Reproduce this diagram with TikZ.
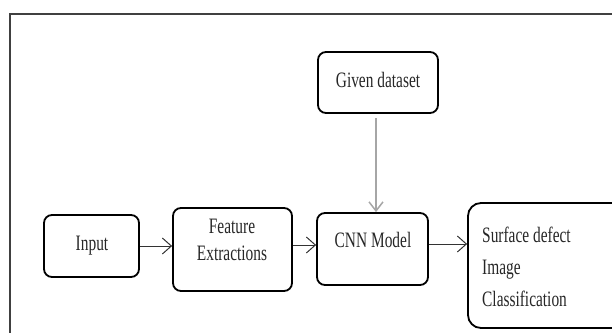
\documentclass[tikz,border=0pt]{standalone}
\usepackage{fontspec}
\setmainfont{Liberation Serif}[FakeStretch=0.7]
\usetikzlibrary{arrows.meta}
\begin{document}
\begin{tikzpicture}[x=1pt,y=-1pt,
  stepbox/.style={draw=black, line width=1.8pt, rounded corners=8pt, inner sep=0pt},
  lbl/.style={font=\fontsize{22}{27}\selectfont, inner sep=0pt, text=black!85},
  flow/.style={draw=black!80, line width=1pt, -{Straight Barb[length=9pt,width=16pt,line width=1pt]}},
  feed/.style={draw=black!35, line width=2pt, -{Straight Barb[length=9pt,width=14pt,line width=1.5pt]}}]
\useasboundingbox (0,0) rectangle (612,332);
\clip (0,0) rectangle (612,332);
% outer frame, open towards the right and bottom
\draw[black!75, line width=2pt] (9.5,420) -- (9.5,14) -- (700,14);

% process boxes
\node[stepbox, minimum width=120pt, minimum height=61pt] (data) at (378,82.5) {};
\node[stepbox, minimum width=95pt, minimum height=62pt] (input) at (91.5,246) {};
\node[stepbox, minimum width=119pt, minimum height=83pt] (feat) at (232.5,249.5) {};
\node[stepbox, minimum width=111pt, minimum height=72pt] (cnn) at (372.5,249) {};
\node[stepbox, rounded corners=13pt, minimum width=232pt, minimum height=125pt] (out) at (584,265.5) {};

% box texts
\node[lbl, anchor=mid] (tdata) at (378,85) {Given dataset};
\node[lbl, anchor=mid] (tinput) at (92,248) {Input};
\node[lbl, anchor=mid, align=center] (tfeat) at (232,258) {Feature\\Extractions};
\node[lbl, anchor=mid] (tcnn) at (373,245) {CNN Model};
\node[lbl, font=\fontsize{22}{32}\selectfont, anchor=west, align=left] (tout) at (482,267) {Surface defect\\Image\\Classification};

% connectors
\draw[feed, shorten <=4pt] (data.south -| 376,0) -- (cnn.north -| 376,0);
\draw[flow] (input.east |- 0,246) -- (feat.west |- 0,246);
\draw[flow] (feat.east |- 0,245) -- (cnn.west |- 0,245);
\draw[flow] (cnn.east |- 0,244) -- (out.west |- 0,244);
\end{tikzpicture}
\end{document}
